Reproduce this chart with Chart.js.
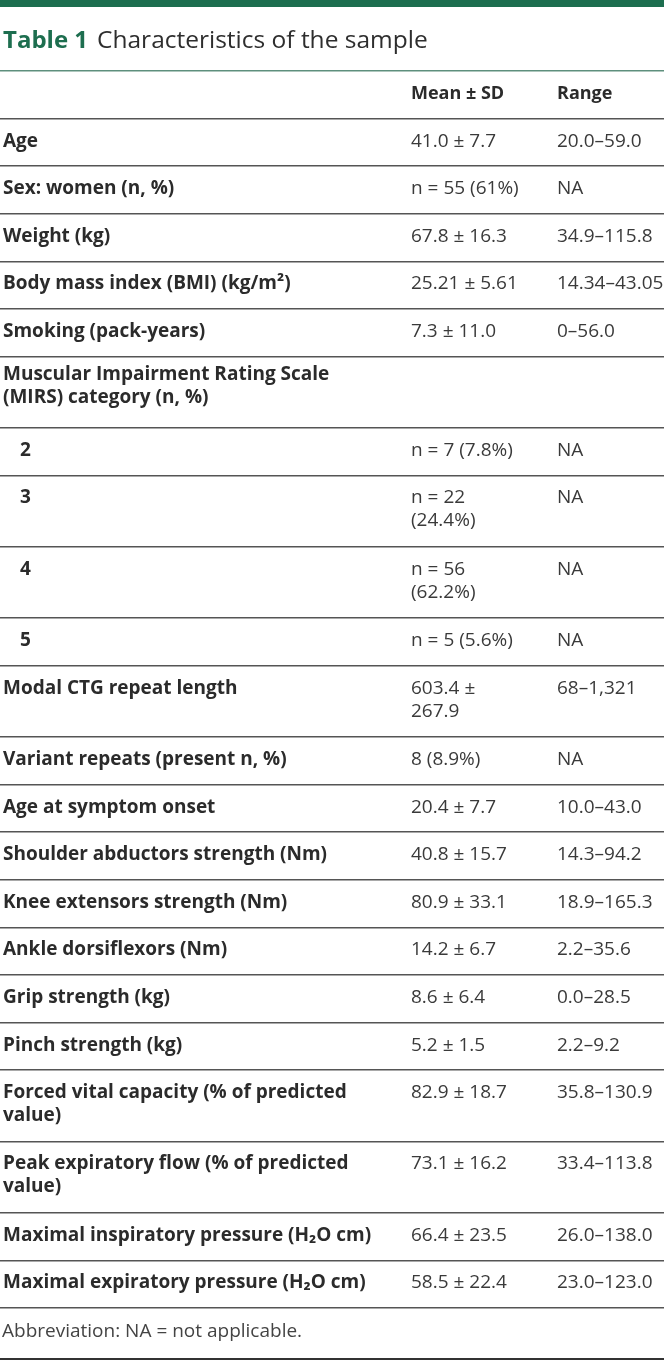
<!DOCTYPE html>
<html>
<head>
<meta charset="utf-8">
<script src="https://cdn.jsdelivr.net/npm/chart.js@4.4.1/dist/chart.umd.min.js"></script>
<style>
  html, body { margin: 0; padding: 0; background: #ffffff; }
  #wrap { width: 664px; height: 1370px; position: relative; }
</style>
</head>
<body>
<div id="wrap"><canvas id="c"></canvas></div>
<script>
// ---- data ----
const titleNumber = "Table 1";
const titleText = "Characteristics of the sample";
const headerLabels = ["Mean ± SD", "Range"];
const rowLabels = [
  ["Age"],
  ["Sex: women (n, %)"],
  ["Weight (kg)"],
  ["Body mass index (BMI) (kg/m²)"],
  ["Smoking (pack-years)"],
  ["Muscular Impairment Rating Scale", "(MIRS) category (n, %)"],
  ["2"],
  ["3"],
  ["4"],
  ["5"],
  ["Modal CTG repeat length"],
  ["Variant repeats (present n, %)"],
  ["Age at symptom onset"],
  ["Shoulder abductors strength (Nm)"],
  ["Knee extensors strength (Nm)"],
  ["Ankle dorsiflexors (Nm)"],
  ["Grip strength (kg)"],
  ["Pinch strength (kg)"],
  ["Forced vital capacity (% of predicted", "value)"],
  ["Peak expiratory flow (% of predicted", "value)"],
  ["Maximal inspiratory pressure (H₂O cm)"],
  ["Maximal expiratory pressure (H₂O cm)"]
];
const meanValues = [
  ["41.0 ± 7.7"],
  ["n = 55 (61%)"],
  ["67.8 ± 16.3"],
  ["25.21 ± 5.61"],
  ["7.3 ± 11.0"],
  [],
  ["n = 7 (7.8%)"],
  ["n = 22", "(24.4%)"],
  ["n = 56", "(62.2%)"],
  ["n = 5 (5.6%)"],
  ["603.4 ±", "267.9"],
  ["8 (8.9%)"],
  ["20.4 ± 7.7"],
  ["40.8 ± 15.7"],
  ["80.9 ± 33.1"],
  ["14.2 ± 6.7"],
  ["8.6 ± 6.4"],
  ["5.2 ± 1.5"],
  ["82.9 ± 18.7"],
  ["73.1 ± 16.2"],
  ["66.4 ± 23.5"],
  ["58.5 ± 22.4"]
];
const rangeValues = [
  ["20.0–59.0"],
  ["NA"],
  ["34.9–115.8"],
  ["14.34–43.05"],
  ["0–56.0"],
  [],
  ["NA"],
  ["NA"],
  ["NA"],
  ["NA"],
  ["68–1,321"],
  ["NA"],
  ["10.0–43.0"],
  ["14.3–94.2"],
  ["18.9–165.3"],
  ["2.2–35.6"],
  ["0.0–28.5"],
  ["2.2–9.2"],
  ["35.8–130.9"],
  ["33.4–113.8"],
  ["26.0–138.0"],
  ["23.0–123.0"]
];
const indentLevels = [0,0,0,0,0,0,1,1,1,1,0,0,0,0,0,0,0,0,0,0,0,0];
const footnote = "Abbreviation: NA = not applicable.";

// ---- row geometry in row units (derived from line counts) ----
const rowSpans = rowLabels.map((l, i) => {
  const n = Math.max(l.length, meanValues[i].length, rangeValues[i].length);
  return 1 + 0.5 * (n - 1);
});
const rowStarts = [];
let acc = 0;
rowSpans.forEach(s => { rowStarts.push(acc); acc += s; });
const totalUnits = acc;
const boundaries = [-1, 0].concat(rowStarts.slice(1), [totalUnits]);

// ---- style ----
const GREEN = '#1d6e4f';
const LABEL_FONT = 'bold 19px "Open Sans"';
const VALUE_FONT = '19px "Open Sans"';
const HEADER_FONT = 'bold 18px "Open Sans"';
const colX = [3, 411, 557];
const indentPx = 17;
const firstBaseline = 28;
const groupBaseline = 24;
const lineStep = 23;

const tablePlugin = {
  id: 'tableCells',
  beforeDraw(chart) {
    const ctx = chart.ctx;
    ctx.save();
    ctx.fillStyle = '#ffffff';
    ctx.fillRect(0, 0, chart.width, chart.height);
    ctx.restore();
  },
  afterDraw(chart) {
    const ctx = chart.ctx;
    const x = chart.scales.x, y = chart.scales.y;
    ctx.save();
    // top band
    ctx.fillStyle = GREEN;
    ctx.fillRect(0, 0, chart.width, 7);
    // title
    ctx.textBaseline = 'alphabetic';
    ctx.textAlign = 'left';
    ctx.font = 'bold 24px "Open Sans"';
    ctx.fillStyle = GREEN;
    ctx.fillText(titleNumber, x.getPixelForValue(colX[0]), 48);
    const w = ctx.measureText(titleNumber).width;
    ctx.font = '24.5px "Open Sans"';
    ctx.fillStyle = '#2e2e2e';
    ctx.fillText(titleText, x.getPixelForValue(colX[0]) + w + 9, 48);

    // header
    const hTop = y.getPixelForValue(-1);
    ctx.font = HEADER_FONT;
    ctx.fillStyle = '#2b2b2b';
    headerLabels.forEach((h, k) => {
      ctx.fillText(h, x.getPixelForValue(colX[k + 1]), hTop + firstBaseline);
    });

    // cells
    rowLabels.forEach((lines, i) => {
      const top = y.getPixelForValue(rowStarts[i]);
      const isGroup = meanValues[i].length === 0 && rangeValues[i].length === 0;
      const base = top + (isGroup ? groupBaseline : firstBaseline);
      ctx.font = LABEL_FONT;
      ctx.fillStyle = '#2b2b2b';
      lines.forEach((t, j) => {
        ctx.fillText(t, x.getPixelForValue(colX[0]) + indentLevels[i] * indentPx, base + j * lineStep);
      });
      ctx.font = VALUE_FONT;
      ctx.fillStyle = '#3a3a3a';
      meanValues[i].forEach((t, j) => {
        ctx.fillText(t, x.getPixelForValue(colX[1]), base + j * lineStep);
      });
      rangeValues[i].forEach((t, j) => {
        ctx.fillText(t, x.getPixelForValue(colX[2]), base + j * lineStep);
      });
    });

    // footnote
    const fTop = y.getPixelForValue(totalUnits);
    ctx.font = '19px "Open Sans"';
    ctx.fillStyle = '#444444';
    ctx.fillText(footnote, x.getPixelForValue(colX[0]) - 1, fTop + 29);
    ctx.strokeStyle = '#333333';
    ctx.lineWidth = 2;
    ctx.beginPath();
    ctx.moveTo(0, fTop + 51);
    ctx.lineTo(chart.width, fTop + 51);
    ctx.stroke();
    ctx.restore();
  }
};

new Chart(document.getElementById('c'), {
  type: 'scatter',
  data: { datasets: [] },
  options: {
    responsive: true,
    maintainAspectRatio: false,
    animation: false,
    events: [],
    layout: { padding: { top: 71, bottom: 62, left: 0, right: 0 } },
    plugins: { legend: { display: false }, tooltip: { enabled: false }, title: { display: false } },
    scales: {
      x: {
        type: 'linear', min: 0, max: 664,
        grid: { display: false, drawTicks: false },
        border: { display: false },
        ticks: { display: false }
      },
      y: {
        type: 'linear', min: -1, max: totalUnits, reverse: true,
        afterBuildTicks: (s) => { s.ticks = boundaries.map(v => ({ value: v })); },
        grid: {
          drawTicks: false,
          lineWidth: 1.6,
          color: (c) => (c.tick && c.tick.value === -1) ? '#5e8f7d' : '#555555'
        },
        border: { display: false },
        ticks: { display: false }
      }
    }
  },
  plugins: [tablePlugin]
});
</script>
</body>
</html>
